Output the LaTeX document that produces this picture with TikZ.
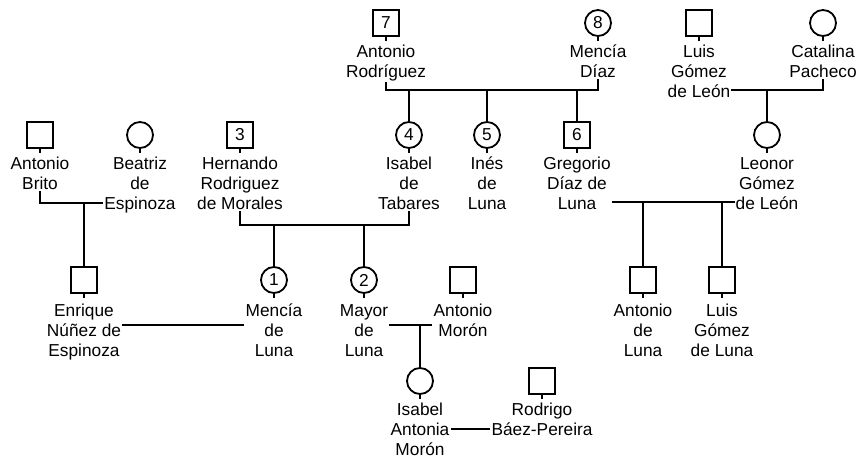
\documentclass[tikz,border=0pt]{standalone}
\usepackage{fontspec}
\setmainfont{Liberation Sans}
\begin{document}
\begin{tikzpicture}[x=1pt,y=-1pt,
  every node/.style={font=\fontsize{17.3}{20}\selectfont},
  male/.style={draw,line width=1.8pt,minimum size=26pt,inner sep=0pt,shape=rectangle},
  female/.style={draw,line width=1.8pt,minimum size=26pt,inner sep=0pt,shape=circle},
  nm/.style={align=center,inner sep=1pt,anchor=base},
  ln/.style={line width=1.8pt},
  stub/.style={line width=1.8pt}]
\useasboundingbox (0,0) rectangle (858,457);
% ---------- row 1
\node[male] (s7) at (386,23) {7};
\node[female] (c8) at (598,23) {8};
\node[male] (lglsq) at (699,23) {};
\node[female] (catc) at (823,23) {};
\node[nm] (arod) at (386,77.5) {Antonio\\Rodríguez};
\node[nm] (mdiaz) at (598,77.5) {Mencía\\Díaz};
\node[nm] (lgl) at (699,97.5) {Luis\\Gómez\\de León};
\node[nm] (cat) at (823,77.5) {Catalina\\Pacheco};
% ---------- row 2
\node[male] (brsq) at (40,135) {};
\node[female] (bec) at (140,135) {};
\node[male] (s3) at (240,135) {3};
\node[female] (c4) at (409,135) {4};
\node[female] (c5) at (487,135) {5};
\node[male] (s6) at (577,135) {6};
\node[female] (leoc) at (767,135) {};
\node[nm] (brito) at (40,189.5) {Antonio\\Brito};
\node[nm] (beat) at (140,209.5) {Beatriz\\de\\Espinoza};
\node[nm] (hern) at (240,209.5) {Hernando\\Rodriguez\\de Morales};
\node[nm] (isab) at (409,209.5) {Isabel\\de\\Tabares};
\node[nm] (ines) at (487,209.5) {Inés\\de\\Luna};
\node[nm] (greg) at (577,209.5) {Gregorio\\Díaz de\\Luna};
\node[nm] (leo) at (767,209.5) {Leonor\\Gómez\\de León};
% ---------- row 3
\node[male] (ensq) at (84,280) {};
\node[female] (c1) at (274,280) {1};
\node[female] (c2) at (364,280) {2};
\node[male] (amsq) at (463,280) {};
\node[male] (alsq) at (643,280) {};
\node[male] (lgsq) at (722,280) {};
\node[nm] (enr) at (84,356) {Enrique\\Núñez de\\Espinoza};
\node[nm] (menc) at (274,356) {Mencía\\de\\Luna};
\node[nm] (mayor) at (364,356) {Mayor\\de\\Luna};
\node[nm] (amor) at (463,336) {Antonio\\Morón};
\node[nm] (aluna) at (643,356) {Antonio\\de\\Luna};
\node[nm] (lgluna) at (722,356) {Luis\\Gómez\\de Luna};
% ---------- row 4
\node[female] (iac) at (420,381) {};
\node[male] (rbsq) at (542,381) {};
\node[nm] (iam) at (420,455) {Isabel\\Antonia\\Morón};
\node[nm] (rbp) at (542,435) {Rodrigo\\Báez-Pereira};
% ---------- stubs below symbols
\foreach \s in {s7,c8,lglsq,catc,brsq,bec,s3,c4,c5,s6,leoc,ensq,c1,c2,amsq,alsq,lgsq,iac,rbsq}
  \draw[stub] (\s.south) -- ++(0,4);
% ---------- marriage points
\coordinate (ma) at (487,90);
\coordinate (ml) at (766,90);
\coordinate (mb) at (84,203);
\coordinate (mh) at (320,225);
\coordinate (mg) at (680,202);
\coordinate (me) at (180,325);
\coordinate (mm) at (420,325);
\coordinate (mi) at (470,429);
% ---------- connectors
\draw[ln] (arod.south) |- (ma) -| (mdiaz.south);
\draw[ln] (c4 |- ma) -- (c4);
\draw[ln] (c5 |- ma) -- (c5);
\draw[ln] (s6 |- ma) -- (s6);
\draw[ln] (lgl.east |- ml) -| (cat.south);
\draw[ln] (leoc |- ml) -- (leoc);
\draw[ln] (brito.south) |- (beat.west |- mb);
\draw[ln] (ensq |- mb) -- (ensq);
\draw[ln] (hern.south) |- (mh) -| (isab.south);
\draw[ln] (c1 |- mh) -- (c1);
\draw[ln] (c2 |- mh) -- (c2);
\draw[ln] (greg.east |- mg) -- (leo.west |- mg);
\draw[ln] (alsq |- mg) -- (alsq);
\draw[ln] (lgsq |- mg) -- (lgsq);
\draw[ln] (enr.east |- me) -- (menc.west |- me);
\draw[ln] (mayor.east |- mm) -- (amor.west |- mm);
\draw[ln] (iac |- mm) -- (iac);
\draw[ln] (iam.east |- mi) -- (rbp.west |- mi);
\end{tikzpicture}
\end{document}
